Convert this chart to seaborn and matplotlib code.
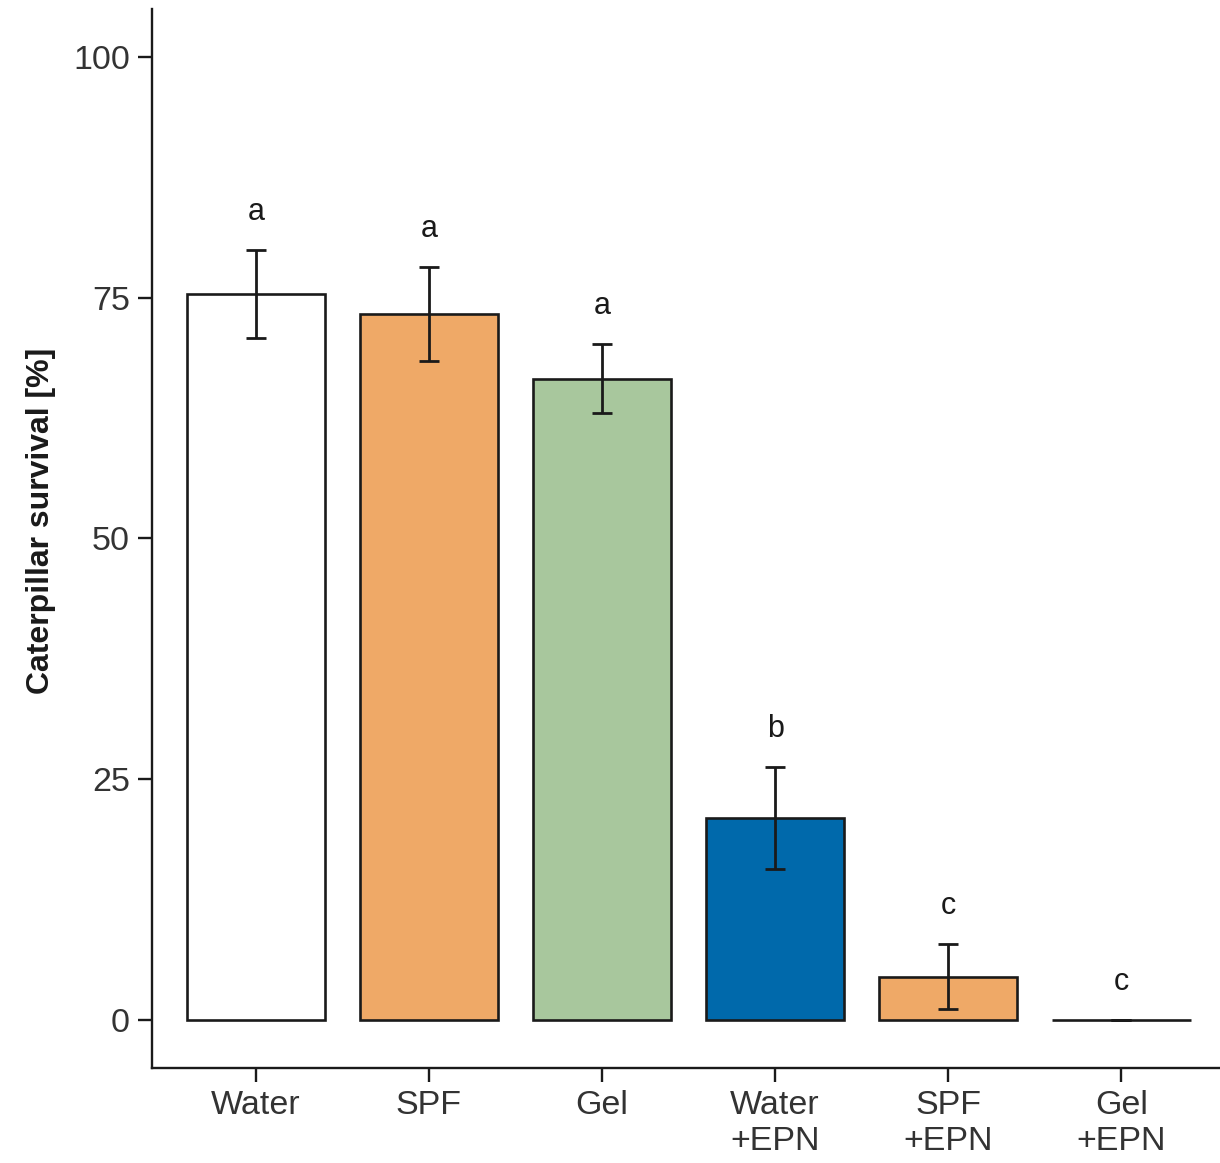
import pandas as pd
import numpy as np
import seaborn as sns
import matplotlib.pyplot as plt

# treatments and values
treatments = ["Water", "SPF", "Gel", "Water\n+EPN", "SPF\n+EPN", "Gel\n+EPN"]
survival = [75.4, 73.3, 66.6, 21.0, 4.5, 0.0]
se = [4.6, 4.9, 3.6, 5.3, 3.4, 0.0]
letters = ["a", "a", "a", "b", "c", "c"]
bar_colors = ["#FFFFFF", "#EFA967", "#A8C79D", "#0069AB", "#EFA967", "#FFFFFF"]

df = pd.DataFrame({"treatment": treatments, "survival": survival, "se": se})

sns.set_theme(style="white")
plt.rcParams["font.family"] = ["Liberation Sans", "DejaVu Sans"]

fig = plt.figure(figsize=(12.2, 11.63), dpi=100)
ax = fig.add_axes([0.1246, 0.0817, 0.8754, 0.9106])

sns.barplot(data=df, x="treatment", y="survival", hue="treatment",
            palette=bar_colors, legend=False, width=0.8, saturation=1,
            edgecolor="#1a1a1a", linewidth=1.9, ax=ax)

# error bars
ax.errorbar(np.arange(len(treatments)), df["survival"], yerr=df["se"],
            fmt="none", ecolor="#1a1a1a", elinewidth=2.0, capsize=7, capthick=2.0)

# significance letters
for i, (m, s, l) in enumerate(zip(survival, se, letters)):
    ax.text(i, m + s + 3.9, l, ha="center", va="center", fontsize=22, color="#1a1a1a")

ax.set_xlim(-0.6, 5.57)
ax.set_ylim(-5, 105)
ax.set_yticks([0, 25, 50, 75, 100])
ax.set_xlabel("")
ax.set_ylabel("Caterpillar survival [%]", fontsize=23, fontweight="bold",
              color="#1a1a1a", labelpad=12)
ax.yaxis.label.set_y(0.5165)

for side in ["top", "right"]:
    ax.spines[side].set_visible(False)
for side in ["left", "bottom"]:
    ax.spines[side].set_linewidth(1.7)
    ax.spines[side].set_color("#1a1a1a")

ax.tick_params(axis="both", which="both", direction="out", length=10, width=1.7,
               color="#1a1a1a", labelsize=24.5, labelcolor="#333333", pad=6,
               left=True, bottom=True)

plt.savefig("out.png", dpi=100)
